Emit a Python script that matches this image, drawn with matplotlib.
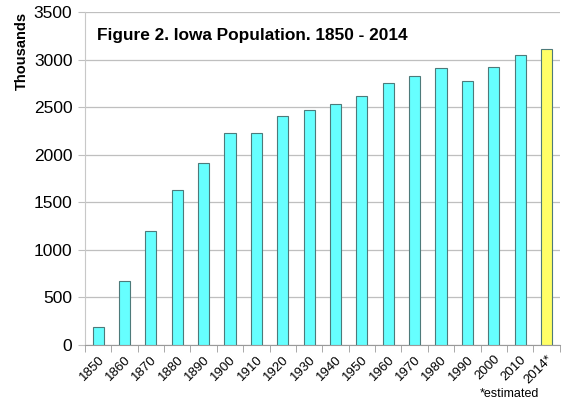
import matplotlib
matplotlib.use("Agg")
import matplotlib.pyplot as plt

plt.rcParams['font.family'] = ['Liberation Sans', 'DejaVu Sans']

years = ["1850", "1860", "1870", "1880", "1890", "1900", "1910", "1920", "1930",
         "1940", "1950", "1960", "1970", "1980", "1990", "2000", "2010", "2014*"]
population = [192, 675, 1194, 1625, 1912, 2232, 2225, 2404, 2471,
              2538, 2621, 2758, 2824, 2914, 2777, 2926, 3046, 3107]
colors = ["#66FFFF"] * 17 + ["#FFFF66"]

fig = plt.figure(figsize=(5.62, 4.01), dpi=100)
ax = fig.add_axes([0.151, 0.14, 0.845, 0.830])

x = list(range(len(years)))
ax.bar(x, population, width=0.42, color=colors, edgecolor="#4d7a7a", linewidth=0.8, zorder=3)
ax.set_xlim(-0.5, len(years) - 0.5)
ax.set_ylim(0, 3500)
ax.set_yticks(range(0, 3501, 500))
ax.yaxis.grid(True, color="#bfbfbf", linewidth=0.9, zorder=0)
ax.tick_params(axis='y', length=5, color="#bfbfbf", labelsize=12.5, pad=4)

ax.set_xticks(x)
ax.set_xticklabels(years, rotation=45, ha='right', rotation_mode='anchor', fontsize=9.5)
ax.set_xticks([i + 0.5 for i in range(-1, len(years))], minor=True)
ax.tick_params(axis='x', which='major', length=0, pad=6)
ax.tick_params(axis='x', which='minor', length=5, color="#9a9a9a")

for s in ['top', 'right']:
    ax.spines[s].set_visible(False)
ax.spines['left'].set_color("#c8c8c8")
ax.spines['bottom'].set_color("#9a9a9a")

ax.set_ylabel("Thousands", fontsize=10.5, fontweight='bold')
ax.yaxis.set_label_coords(-0.118, 0.883)
ax.text(0.025, 0.93, "Figure 2. Iowa Population. 1850 - 2014", transform=ax.transAxes,
        fontsize=12.4, fontweight='bold', va='center', ha='left')
fig.text(0.907, 0.018, "*estimated", fontsize=9, ha='center', va='center')

fig.savefig("out.png", dpi=100)
